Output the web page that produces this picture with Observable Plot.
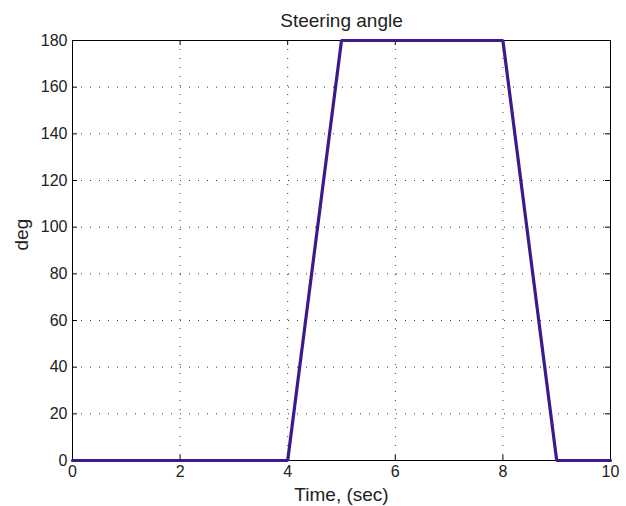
<!DOCTYPE html>
<html><head><meta charset="utf-8">
<script src="https://cdn.jsdelivr.net/npm/d3@7"></script>
<script src="https://cdn.jsdelivr.net/npm/@observablehq/plot@0.6"></script>
<style>
body{margin:0;background:#fff;}
svg{font-family:"Liberation Sans",Arial,sans-serif;}
</style>
</head><body>
<div id="chart"></div>
<script>
const time = [0, 4, 5, 8, 9, 10];
const angle = [0, 0, 180, 180, 0, 0];
const xTicks = [0, 2, 4, 6, 8, 10];
const yTicks = [0, 20, 40, 60, 80, 100, 120, 140, 160, 180];

const data = time.map((t, i) => ({t, a: angle[i]}));
const W = 626, H = 506, mt = 40, mb = 46, ml = 72, mr = 16;
const ph = H - mt - mb, pw = W - ml - mr;

const chart = Plot.plot({
  width: W, height: H,
  marginTop: mt, marginBottom: mb, marginLeft: ml, marginRight: mr,
  style: {fontSize: "16px", fontFamily: "Liberation Sans, Arial, sans-serif", color: "#222"},
  x: {domain: [0, 10], label: null},
  y: {domain: [0, 180], label: null},
  marks: [
    Plot.ruleX(xTicks.slice(1, -1), {stroke: "#000", strokeWidth: 1, strokeDasharray: "1,8", strokeOpacity: 0.8}),
    Plot.ruleY(yTicks.slice(1, -1), {stroke: "#000", strokeWidth: 1, strokeDasharray: "1,8", strokeOpacity: 0.8}),
    Plot.tickX(xTicks, {x: d => d, insetTop: ph - 5, stroke: "#000"}),
    Plot.tickX(xTicks, {x: d => d, insetBottom: ph - 5, stroke: "#000"}),
    Plot.tickY(yTicks, {y: d => d, insetRight: pw - 5, stroke: "#000"}),
    Plot.tickY(yTicks, {y: d => d, insetLeft: pw - 5, stroke: "#000"}),
    Plot.frame({stroke: "#000", strokeWidth: 1}),
    Plot.axisX(xTicks, {anchor: "bottom", tickSize: 0, tickPadding: 5, fontSize: 16, label: null}),
    Plot.axisY(yTicks, {anchor: "left", tickSize: 0, tickPadding: 5, fontSize: 16, label: null}),
    Plot.line(data, {x: "t", y: "a", stroke: "#3b1a8c", strokeWidth: 3.2, strokeLinejoin: "miter"}),
    Plot.text(["Steering angle"], {frameAnchor: "top", lineAnchor: "middle", dy: -20, fontSize: 19, fill: "#222"}),
    Plot.text(["Time, (sec)"], {frameAnchor: "bottom", lineAnchor: "middle", dy: 34, fontSize: 19, fill: "#222"}),
    Plot.text(["deg"], {frameAnchor: "left", lineAnchor: "middle", dx: -51, rotate: -90, fontSize: 19, fill: "#222"})
  ]
});
document.getElementById("chart").appendChild(chart);
</script>
</body></html>
